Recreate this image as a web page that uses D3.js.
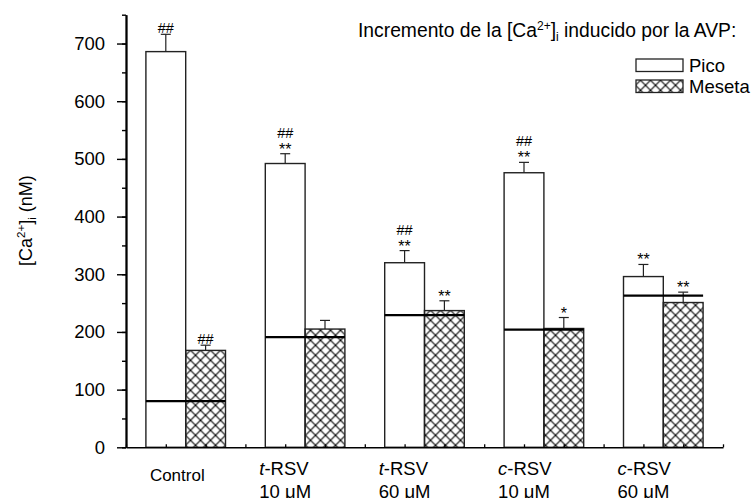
<!DOCTYPE html>
<html>
<head>
<meta charset="utf-8">
<script src="https://cdn.jsdelivr.net/npm/d3@7"></script>
<style>
  body { margin: 0; background: #fff; }
  svg { font-family: "Liberation Sans", Arial, sans-serif; }
</style>
</head>
<body>
<div class="chart"></div>
<script>
// groups along the x axis (two text lines each, first part italic)
var groups = ["Control", "t10", "t60", "c10", "c60"];
var labelItalic = ["", "t", "t", "c", "c"];
var labelLine1 = ["Control", "-RSV", "-RSV", "-RSV", "-RSV"];
var labelLine2 = ["", "10 \u03bcM", "60 \u03bcM", "10 \u03bcM", "60 \u03bcM"];

// peak ("Pico") and plateau ("Meseta") values, nM
var pico = [686, 492, 320, 476, 296];
var picoErr = [30, 17, 21, 18, 21];
var meseta = [168, 205, 237, 206, 251];
var mesetaErr = [9, 15, 17, 19, 18];
// basal level line drawn across each group
var basal = [80, 191, 229, 204, 263];

// significance marks, bottom line first
var picoMarks = [["##"], ["**", "##"], ["**", "##"], ["**", "##"], ["**"]];
var mesetaMarks = [["##"], [], ["**"], ["*"], ["**"]];

var yMajor = [0, 100, 200, 300, 400, 500, 600, 700];
var yMinor = d3.range(0, 751, 50);

var W = 756, H = 498;
var mLeft = 126, mRight = 723, mTop = 14.7, mBottom = 447.3;

var svg = d3.select(".chart").append("svg")
    .attr("width", W)
    .attr("height", H);

// hatch pattern for the plateau bars
var defs = svg.append("defs");
defs.append("pattern")
    .attr("id", "hatch")
    .attr("patternUnits", "userSpaceOnUse")
    .attr("width", 10)
    .attr("height", 10)
    .attr("x", 0.5)
    .attr("y", 0.3)
  .append("path")
    .attr("d", "M0,0L10,10M10,0L0,10M-1,9L1,11M9,-1L11,1")
    .attr("stroke", "#000")
    .attr("stroke-width", 1.1)
    .attr("fill", "none");

var y = d3.scaleLinear().domain([0, 750]).range([mBottom, mTop]);
var x0 = d3.scaleBand().domain(groups).range([mLeft, mRight])
    .paddingInner(1 / 3).paddingOuter(1 / 6);
var x1 = d3.scaleBand().domain(["pico", "meseta"]).range([0, x0.bandwidth()]);
var xt = d3.scaleLinear().domain([0, 15]).range([mLeft, mRight]);

// bars
var bars = svg.append("g");
groups.forEach(function(g, i) {
    var gx = x0(g);
    var series = [
        {key: "pico", v: pico[i], e: picoErr[i], marks: picoMarks[i], fill: "#fff"},
        {key: "meseta", v: meseta[i], e: mesetaErr[i], marks: mesetaMarks[i], fill: "url(#hatch)"}
    ];
    series.forEach(function(s) {
        var bx = gx + x1(s.key), bw = x1.bandwidth(), cx = bx + bw / 2;
        var eTop = y(s.v + s.e);
        // error bar (upper half only)
        bars.append("line")
            .attr("x1", cx).attr("x2", cx)
            .attr("y1", y(s.v)).attr("y2", eTop)
            .attr("stroke", "#222").attr("stroke-width", 1.2);
        bars.append("line")
            .attr("x1", cx - 5).attr("x2", cx + 5)
            .attr("y1", eTop).attr("y2", eTop)
            .attr("stroke", "#222").attr("stroke-width", 1.2);
        bars.append("rect")
            .attr("x", bx).attr("y", y(s.v))
            .attr("width", bw).attr("height", y(0) - y(s.v))
            .attr("fill", s.fill)
            .attr("stroke", "#222").attr("stroke-width", 1.4);
        s.marks.forEach(function(m, k) {
            var isStar = m.indexOf("*") >= 0;
            bars.append("text")
                .attr("x", cx)
                .attr("y", eTop - (isStar ? -1 : 1) - k * 15)
                .attr("text-anchor", "middle")
                .attr("font-size", isStar ? 16 : 14.5)
                .text(m);
        });
    });
    // basal line
    bars.append("line")
        .attr("x1", gx).attr("x2", gx + x0.bandwidth())
        .attr("y1", y(basal[i])).attr("y2", y(basal[i]))
        .attr("stroke", "#000").attr("stroke-width", 2.2);
});

// y axis
var yAxis = svg.append("g").attr("transform", "translate(" + mLeft + ",0)");
yAxis.call(d3.axisLeft(y).tickValues(yMinor).tickSize(4).tickSizeOuter(0).tickFormat(""));
yAxis.append("g").call(d3.axisLeft(y).tickValues(yMajor).tickSize(9).tickSizeOuter(0).tickPadding(12));
yAxis.selectAll("path, line").attr("stroke", "#000").attr("stroke-width", 1.4);
yAxis.selectAll(".domain").attr("stroke-width", 1.8);
yAxis.selectAll("text").attr("font-size", 18.5).attr("fill", "#000")
    .attr("font-family", "Liberation Sans, Arial, sans-serif");

// x axis
var xAxis = svg.append("g").attr("transform", "translate(0," + mBottom + ")");
xAxis.call(d3.axisBottom(xt).ticks(15).tickSize(-3).tickSizeOuter(0).tickFormat(""));
xAxis.selectAll("path, line").attr("stroke", "#000").attr("stroke-width", 1.3);
xAxis.selectAll(".domain").attr("stroke-width", 1.6);

// x labels
groups.forEach(function(g, i) {
    var lx = x0(g) + (i === 0 ? 4 : -6);
    if (i === 0) {
        svg.append("text").attr("x", lx).attr("y", 480.5)
            .attr("font-size", 17).text(labelLine1[i]);
        return;
    }
    var t1 = svg.append("text").attr("x", lx).attr("y", 474.5).attr("font-size", 18.5);
    t1.append("tspan").attr("font-style", "italic").text(labelItalic[i]);
    t1.append("tspan").text(labelLine1[i]);
    svg.append("text").attr("x", lx).attr("y", 497.5)
        .attr("font-size", 18.5).text(labelLine2[i]);
});

// y title
var yt = svg.append("text")
    .attr("transform", "translate(32,266) rotate(-90)")
    .attr("font-size", 18);
yt.append("tspan").text("[Ca");
yt.append("tspan").attr("font-size", 11.5).attr("dy", -7).text("2+");
yt.append("tspan").attr("dy", 7).text("]");
yt.append("tspan").attr("font-size", 11.5).attr("dy", 4).text("i");
yt.append("tspan").attr("dy", -4).text(" (nM)");

// legend title
var lt = svg.append("text").attr("x", 358).attr("y", 37).attr("font-size", 19.3);
lt.append("tspan").text("Incremento de la [Ca");
lt.append("tspan").attr("font-size", 12).attr("dy", -7.5).text("2+");
lt.append("tspan").attr("dy", 7.5).text("]");
lt.append("tspan").attr("font-size", 12).attr("dy", 4).text("i");
lt.append("tspan").attr("dy", -4).text(" inducido por la AVP:");

// legend entries
var legendKeys = ["Pico", "Meseta"];
var legendFill = ["#fff", "url(#hatch)"];
legendKeys.forEach(function(k, i) {
    svg.append("rect")
        .attr("x", 636).attr("y", 59 + i * 21)
        .attr("width", 47).attr("height", 12.5)
        .attr("fill", legendFill[i])
        .attr("stroke", "#222").attr("stroke-width", 1.3);
    svg.append("text")
        .attr("x", 689).attr("y", 71.5 + i * 21)
        .attr("font-size", 18.5).text(k);
});
</script>
</body>
</html>
